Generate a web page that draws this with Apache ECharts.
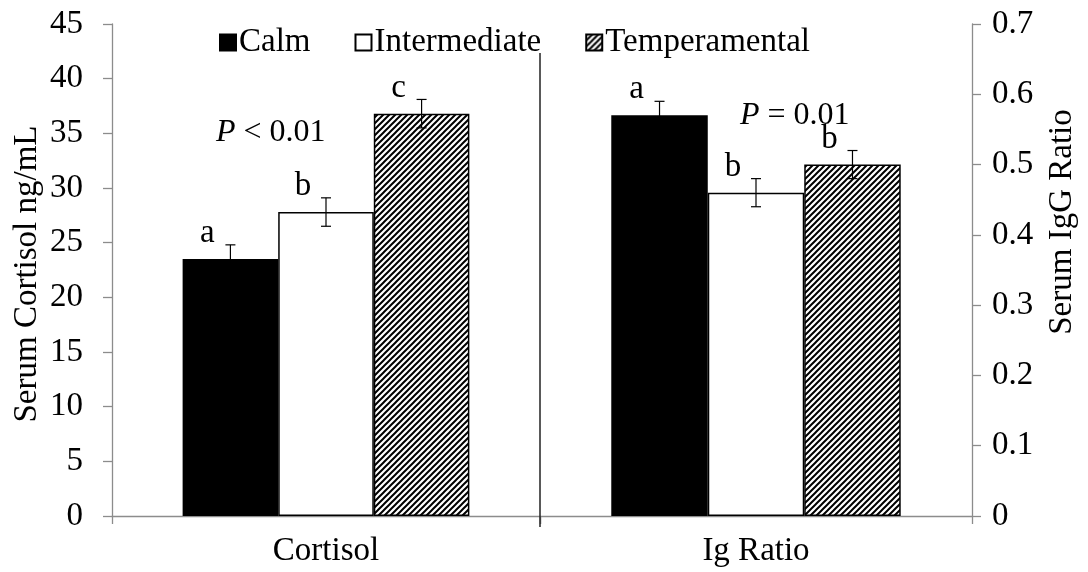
<!DOCTYPE html>
<html>
<head>
<meta charset="utf-8">
<script src="https://cdn.jsdelivr.net/npm/echarts@6/dist/echarts.min.js"></script>
<style>
html,body{margin:0;padding:0;background:#fff;}
#chart{width:1088px;height:572px;}
</style>
</head>
<body>
<div id="chart"></div>
<script>
// ---- data ----
const categories = ['Cortisol', 'Ig Ratio'];
const groups = ['Calm', 'Intermediate', 'Temperamental'];
const cortisolMean = [23.5, 27.8, 36.8];
const cortisolSE = [1.3, 1.3, 1.3];
const cortisolLetters = ['a', 'b', 'c'];
const igMean = [0.57, 0.46, 0.50];
const igSE = [0.02, 0.02, 0.02];
const igLetters = ['a', 'b', 'b'];
const leftTicks = {min: 0, max: 45, interval: 5};
const rightTicks = {min: 0, max: 0.7, interval: 0.1};
const leftAxisTitle = 'Serum Cortisol ng/mL';
const rightAxisTitle = 'Serum IgG Ratio';

// ---- styles ----
const FONT = "'Liberation Serif', 'Times New Roman', serif";
const FS = 33;
const GRAY = '#8c8c8c';
const CAT_GAP = 0.33;

function hatch() {
  const c = document.createElement('canvas');
  c.width = c.height = 6;
  const ctx = c.getContext('2d');
  ctx.fillStyle = '#fff';
  ctx.fillRect(0, 0, 6, 6);
  ctx.strokeStyle = '#000';
  ctx.lineWidth = 2;
  ctx.beginPath();
  ctx.moveTo(-1, 7); ctx.lineTo(7, -1);
  ctx.moveTo(-1, 1); ctx.lineTo(1, -1);
  ctx.moveTo(5, 7); ctx.lineTo(7, 5);
  ctx.stroke();
  return c;
}
const fills = ['#000000', '#ffffff', {image: hatch(), repeat: 'repeat'}];

const chart = echarts.init(document.getElementById('chart'), null, {renderer: 'canvas'});

function xAxisDef(gi, cat) {
  return {
    gridIndex: gi, type: 'category', data: [cat],
    axisLine: {show: true, lineStyle: {color: GRAY, width: 1.3}},
    axisTick: {show: true, length: 8, lineStyle: {color: GRAY, width: 1.3}},
    axisLabel: {color: '#000', fontFamily: FONT, fontSize: FS, margin: 19}
  };
}
function yAxisDef(gi, pos, t) {
  return {
    gridIndex: gi, type: 'value', position: pos,
    min: t.min, max: t.max, interval: t.interval,
    axisLine: {show: true, lineStyle: {color: GRAY, width: 1.3}},
    axisTick: {show: true, length: 9, lineStyle: {color: GRAY, width: 1.3}},
    axisLabel: {color: '#000', fontFamily: FONT, fontSize: FS, margin: pos === 'left' ? 29 : 20},
    splitLine: {show: false}
  };
}

function barSeries(gi, means) {
  return groups.map((g, i) => ({
    type: 'bar', name: g, xAxisIndex: gi, yAxisIndex: gi,
    data: [means[i]],
    barGap: '0%', barCategoryGap: (CAT_GAP * 100) + '%',
    itemStyle: {color: fills[i], borderColor: '#000', borderWidth: 1.5},
    z: 2
  }));
}

function errSeries(gi, means, ses, letters) {
  return {
    type: 'custom', xAxisIndex: gi, yAxisIndex: gi, z: 5, silent: true,
    data: means.map((m, i) => [0, i, m, ses[i]]),
    encode: {x: 0, y: 2},
    renderItem: function (params, api) {
      const cat = api.value(0), g = api.value(1), m = api.value(2), se = api.value(3);
      const band = api.size([1, 0])[0];
      const barW = band * (1 - CAT_GAP) / groups.length;
      const c = api.coord([cat, m]);
      const x = c[0] + (g - (groups.length - 1) / 2) * barW;
      const yt = api.coord([cat, m + se])[1];
      const yb = api.coord([cat, m - se])[1];
      const capW = 5;
      const ls = {stroke: '#000', lineWidth: 1.2};
      return {
        type: 'group',
        children: [
          {type: 'line', shape: {x1: x, y1: yt, x2: x, y2: yb}, style: ls},
          {type: 'line', shape: {x1: x - capW, y1: yt, x2: x + capW, y2: yt}, style: ls},
          {type: 'line', shape: {x1: x - capW, y1: yb, x2: x + capW, y2: yb}, style: ls},
          {type: 'text', x: x - 23, y: yt + 5,
           style: {text: letters[params.dataIndex], fill: '#000', font: FS + 'px ' + FONT,
                   align: 'center', verticalAlign: 'bottom'}}
        ]
      };
    }
  };
}

const option = {
  backgroundColor: '#ffffff',
  animation: false,
  grid: [
    {left: 112, right: 548, top: 24, bottom: 56, outerBoundsMode: 'none', containLabel: false},
    {left: 540, right: 116, top: 24, bottom: 56, outerBoundsMode: 'none', containLabel: false}
  ],
  legend: {
    data: groups, top: 21, left: 214, itemGap: 44,
    icon: 'rect', itemWidth: 16, itemHeight: 16,
    textStyle: {color: '#000', fontFamily: FONT, fontSize: FS, padding: [0, 0, 0, -2]}
  },
  xAxis: [xAxisDef(0, categories[0]), xAxisDef(1, categories[1])],
  yAxis: [yAxisDef(0, 'left', leftTicks), yAxisDef(1, 'right', rightTicks)],
  series: [
    ...barSeries(0, cortisolMean),
    ...barSeries(1, igMean),
    errSeries(0, cortisolMean, cortisolSE, cortisolLetters),
    errSeries(1, igMean, igSE, igLetters)
  ],
  graphic: [
    {type: 'line', shape: {x1: 540, y1: 53, x2: 540, y2: 527},
     style: {stroke: '#222', lineWidth: 1.5}, z: 10},
    {type: 'text', x: 27, y: 274, rotation: Math.PI / 2,
     style: {text: leftAxisTitle, font: '33px ' + FONT, fill: '#000', align: 'center', verticalAlign: 'middle'}},
    {type: 'text', x: 1062, y: 222, rotation: Math.PI / 2,
     style: {text: rightAxisTitle, font: '33px ' + FONT, fill: '#000', align: 'center', verticalAlign: 'middle'}},
    {type: 'text', x: 216, y: 133,
     style: {text: '{i|P} < 0.01', fill: '#000', verticalAlign: 'middle',
             font: '32px ' + FONT,
             rich: {i: {fontStyle: 'italic', fontFamily: FONT, fontSize: 32}}}},
    {type: 'text', x: 740, y: 116,
     style: {text: '{i|P} = 0.01', fill: '#000', verticalAlign: 'middle',
             font: '32px ' + FONT,
             rich: {i: {fontStyle: 'italic', fontFamily: FONT, fontSize: 32}}}}
  ]
};
chart.setOption(option);
</script>
</body>
</html>
